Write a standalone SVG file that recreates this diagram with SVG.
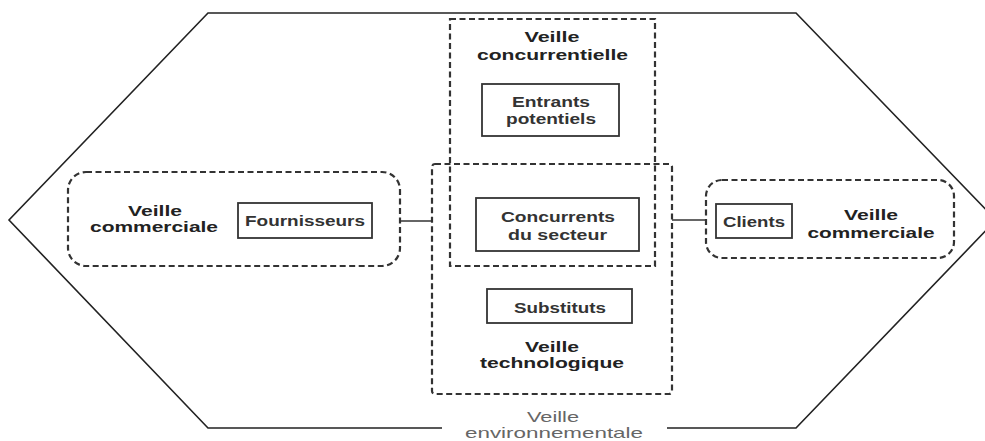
<svg xmlns="http://www.w3.org/2000/svg" width="985" height="441" viewBox="0 0 985 441">
<style>
.hex{fill:none;stroke:#222;stroke-width:1.6}
.dash{fill:none;stroke:#333;stroke-width:2.2;stroke-dasharray:6 3.5}
.box{fill:#fff;stroke:#333;stroke-width:1.8}
.conn{fill:none;stroke:#333;stroke-width:1.5}
text{font-family:"Liberation Sans",Arial,sans-serif;font-size:15px;fill:#222;text-anchor:middle}
.b{font-weight:bold}
.m{font-weight:bold;fill:#333}
.env{fill:#666;font-weight:normal}
</style>
<rect width="985" height="441" fill="#fff"/>
<g id="environnement">
<path class="hex" d="M442,428 L208,428 L9,220 L208,13 L796,13 L996,220 L796,428 L667,428"/>
<text class="env" x="553" y="422" textLength="52" lengthAdjust="spacingAndGlyphs">Veille</text>
<text class="env" x="554" y="438" textLength="178" lengthAdjust="spacingAndGlyphs">environnementale</text>
</g>
<g id="veille-concurrentielle">
<rect class="dash" x="450" y="19" width="205" height="247"/>
<text class="b" x="552" y="42" textLength="55" lengthAdjust="spacingAndGlyphs">Veille</text>
<text class="b" x="552.5" y="60" textLength="151" lengthAdjust="spacingAndGlyphs">concurrentielle</text>
</g>
<g id="veille-technologique">
<rect class="dash" x="432" y="164" width="240" height="230" rx="3"/>
<text class="b" x="552" y="352" textLength="54" lengthAdjust="spacingAndGlyphs">Veille</text>
<text class="b" x="552" y="368" textLength="144" lengthAdjust="spacingAndGlyphs">technologique</text>
</g>
<g id="veille-commerciale-gauche">
<rect class="dash" x="68" y="172" width="332" height="94" rx="18"/>
<text class="b" x="155" y="216" textLength="54" lengthAdjust="spacingAndGlyphs">Veille</text>
<text class="b" x="154" y="232" textLength="128" lengthAdjust="spacingAndGlyphs">commerciale</text>
</g>
<g id="veille-commerciale-droite">
<rect class="dash" x="706" y="180" width="248" height="78" rx="16"/>
<text class="b" x="871" y="220" textLength="54" lengthAdjust="spacingAndGlyphs">Veille</text>
<text class="b" x="871" y="238" textLength="127" lengthAdjust="spacingAndGlyphs">commerciale</text>
</g>
<g id="entrants">
<rect class="box" x="482" y="84" width="137" height="52"/>
<text class="m" x="551" y="107" textLength="78" lengthAdjust="spacingAndGlyphs">Entrants</text>
<text class="m" x="551" y="124" textLength="90" lengthAdjust="spacingAndGlyphs">potentiels</text>
</g>
<g id="concurrents">
<rect class="box" x="476" y="198" width="163" height="53"/>
<text class="m" x="558" y="222" textLength="114" lengthAdjust="spacingAndGlyphs">Concurrents</text>
<text class="m" x="557.5" y="240" textLength="99" lengthAdjust="spacingAndGlyphs">du secteur</text>
</g>
<g id="substituts">
<rect class="box" x="487" y="289" width="145" height="34"/>
<text class="m" x="560" y="313" textLength="92" lengthAdjust="spacingAndGlyphs">Substituts</text>
</g>
<g id="fournisseurs">
<rect class="box" x="238" y="203" width="134" height="35"/>
<text class="m" x="305" y="226" textLength="120" lengthAdjust="spacingAndGlyphs">Fournisseurs</text>
</g>
<g id="clients">
<rect class="box" x="716" y="204" width="76" height="34"/>
<text class="m" x="754" y="227" textLength="62" lengthAdjust="spacingAndGlyphs">Clients</text>
</g>
<g id="connectors">
<line class="conn" x1="400" y1="221" x2="432" y2="221"/>
<line class="conn" x1="672" y1="220" x2="706" y2="220"/>
</g>
</svg>
